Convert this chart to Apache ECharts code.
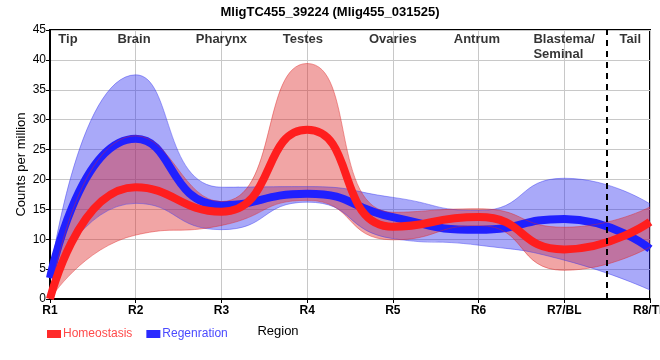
<!DOCTYPE html>
<html>
<head>
<meta charset="utf-8">
<script src="https://cdn.jsdelivr.net/npm/echarts@6/dist/echarts.min.js"></script>
<style>html,body{margin:0;padding:0;background:#fff}#c{width:660px;height:360px}</style>
</head>
<body>
<div id="c"></div>
<script>
var categories = ['R1','R2','R3','R4','R5','R6','R7/BL','R8/TP'];
var homeo     = [0,   18.7, 14.6, 28.3, 12.1, 13.7, 8.3, 12.9];
var homeoLow  = [0,   10.7, 12.3, 16.5,  9.9, 12.3, 4.8,  8.7];
var homeoHigh = [0.5, 27.3, 16.3, 39.4, 14.5, 15.1, 12.0, 15.4];
var regen     = [3.5, 26.8, 15.7, 17.6, 13.7, 11.6, 13.4,  8.4];
var regenLow  = [3.2, 16.0, 11.6, 16.2, 10.1,  9.0,  6.5,  1.5];
var regenHigh = [4.0, 37.5, 18.7, 18.8, 17.0, 14.8, 20.2, 15.9];
var regionNames = ['Tip','Brain','Pharynx','Testes','Ovaries','Antrum','Blastema/\nSeminal','Tail'];
var regionPos   = [0.21, 0.98, 2.0, 2.95, 4.0, 4.98, 5.64, 6.77];
var regionAlign = ['center','center','center','center','center','center','left','center'];
var dividerPos = 6.5;
var titleText = 'MligTC455_39224 (Mlig455_031525)';

var FONT = '"Liberation Sans", Arial, sans-serif';
var smoothV = 0.55;
function diff(a, b) { return a.map(function (v, i) { return +(v - b[i]).toFixed(3); }); }

var chart = echarts.init(document.getElementById('c'), null, {renderer: 'canvas'});
var option = {
  animation: false,
  title: {text: titleText, left: 'center', top: 1,
    textStyle: {fontFamily: FONT, fontSize: 13, fontWeight: 'bold', color: '#000'}},
  legend: {
    left: 42, top: 323, itemWidth: 14, itemHeight: 8, itemGap: 14, icon: 'rect',
    data: [
      {name: 'Homeostasis', textStyle: {color: '#ff4a4a'}},
      {name: 'Regenration', textStyle: {color: '#4a4aff'}}
    ],
    textStyle: {fontFamily: FONT, fontSize: 12, padding: [0, 0, 0, -3]}
  },
  grid: {left: 50, right: 10, top: 30, bottom: 61, show: true, borderColor: '#000', borderWidth: 2,
    containLabel: false, outerBoundsMode: 'none'},
  xAxis: [{
    type: 'category', data: categories, boundaryGap: false,
    name: 'Region', nameLocation: 'middle', nameGap: 26, nameMoveOverlap: false,
    nameTextStyle: {fontFamily: FONT, fontSize: 13, color: '#000', padding: [0, 144, 0, 0]},
    axisLine: {lineStyle: {color: '#000', width: 2}},
    axisTick: {show: true, length: 4, lineStyle: {color: '#000'}},
    axisLabel: {fontFamily: FONT, fontSize: 12, fontWeight: 'bold', color: '#000', margin: 6},
    splitLine: {show: true, lineStyle: {color: '#c8c8c8', width: 1}}
  }, {
    type: 'value', min: 0, max: 7, show: false
  }],
  yAxis: {
    type: 'value', min: 0, max: 45, interval: 5,
    name: 'Counts per million', nameLocation: 'middle', nameGap: 22, nameMoveOverlap: false,
    nameTextStyle: {fontFamily: FONT, fontSize: 13, color: '#000'},
    axisLine: {show: true, lineStyle: {color: '#000', width: 2}},
    axisTick: {show: true, length: 4, lineStyle: {color: '#000'}},
    axisLabel: {fontFamily: FONT, fontSize: 12, color: '#000', margin: 4},
    splitLine: {show: true, lineStyle: {color: '#c8c8c8', width: 1}}
  },
  series: [
    {name: 'rLow', type: 'line', data: regenLow, stack: 'rb', smooth: smoothV, symbol: 'none',
      lineStyle: {width: 1, color: 'rgba(60,60,240,0.45)'}, silent: true},
    {name: 'rBand', type: 'line', data: diff(regenHigh, regenLow), stack: 'rb', smooth: smoothV, symbol: 'none',
      lineStyle: {width: 1, color: 'rgba(60,60,240,0.45)'},
      areaStyle: {color: 'rgba(40,40,240,0.40)', opacity: 1}, silent: true},
    {name: 'Regenration', type: 'line', data: regen, smooth: smoothV, symbol: 'none',
      color: '#2a2aff', lineStyle: {width: 8, color: '#2020ff'}},
    {name: 'hLow', type: 'line', data: homeoLow, stack: 'hb', smooth: smoothV, symbol: 'none',
      lineStyle: {width: 1, color: 'rgba(225,40,40,0.45)'}, silent: true},
    {name: 'hBand', type: 'line', data: diff(homeoHigh, homeoLow), stack: 'hb', smooth: smoothV, symbol: 'none',
      lineStyle: {width: 1, color: 'rgba(225,40,40,0.45)'},
      areaStyle: {color: 'rgba(222,40,40,0.42)', opacity: 1}, silent: true},
    {name: 'Homeostasis', type: 'line', data: homeo, smooth: smoothV, symbol: 'none',
      color: '#ff2a2a', lineStyle: {width: 8, color: '#ff1e1e'}},
    {name: 'regions', type: 'scatter', xAxisIndex: 1, symbolSize: 0, silent: true,
      data: regionNames.map(function (n, i) {
        return {value: [regionPos[i], 44.6], name: n,
          label: {align: regionAlign[i]}};
      }),
      label: {show: true, position: 'inside', formatter: function (p) { return p.name; },
        verticalAlign: 'top', fontFamily: FONT, fontSize: 13, fontWeight: 'bold', color: '#000', lineHeight: 15},
      markLine: {symbol: 'none', silent: true, label: {show: false},
        lineStyle: {type: [6, 5], color: '#000', width: 2},
        data: [{xAxis: dividerPos}]}
    }
  ]
};
chart.setOption(option);
</script>
</body>
</html>
